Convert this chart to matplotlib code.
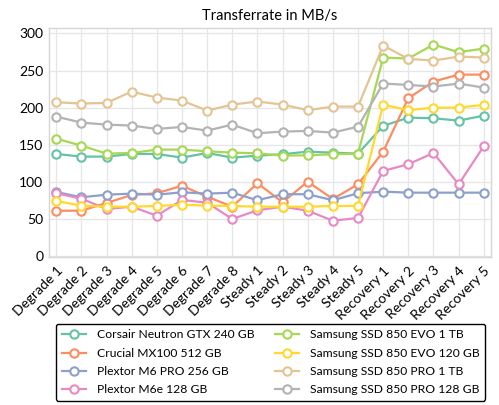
import matplotlib
matplotlib.use("Agg")
import matplotlib.pyplot as plt
from matplotlib.transforms import ScaledTranslation

plt.rcParams['font.family'] = ['Lato', 'DejaVu Sans']

categories = ["Degrade 1", "Degrade 2", "Degrade 3", "Degrade 4", "Degrade 5", "Degrade 6",
              "Degrade 7", "Degrade 8", "Steady 1", "Steady 2", "Steady 3", "Steady 4",
              "Steady 5", "Recovery 1", "Recovery 2", "Recovery 3", "Recovery 4", "Recovery 5"]

corsair_neutron_gtx_240 = [137.7, 134.1, 134.1, 137.7, 137.7, 132.7, 139.0, 132.7,
                           135.4, 137.3, 140.8, 139.4, 138.1,
                           175.5, 186.6, 185.8, 182.6, 189.3]
crucial_mx100_512 = [61.2, 61.2, 71.6, 82.4, 84.7, 94.9, 80.1, 66.6,
                     98.2, 72.6, 100.3, 77.0, 96.8,
                     140.8, 212.8, 235.2, 244.6, 244.6]
plextor_m6_pro_256 = [86.4, 79.3, 82.8, 84.2, 82.8, 86.0, 84.2, 85.5,
                      75.3, 83.4, 83.4, 75.3, 84.7,
                      86.9, 85.5, 85.5, 85.5, 85.5]
plextor_m6e_128 = [84.7, 77.4, 63.5, 66.6, 54.5, 75.7, 72.0, 50.0,
                   61.8, 66.6, 61.2, 47.7, 51.4,
                   114.8, 123.8, 139.0, 96.8, 148.1]
samsung_850_evo_1tb = [158.3, 148.9, 138.1, 139.0, 143.5, 143.5, 141.3, 139.4,
                       138.6, 135.4, 135.9, 137.3, 138.1,
                       267.6, 266.2, 285.1, 274.8, 279.7]
samsung_850_evo_120 = [74.3, 68.0, 66.6, 66.6, 67.6, 69.3, 68.0, 67.6,
                       66.6, 66.6, 66.6, 67.6, 67.6,
                       204.2, 196.6, 200.1, 200.1, 203.8]
samsung_850_pro_1tb = [207.4, 205.6, 206.5, 221.7, 213.6, 209.6, 196.1, 204.2,
                       208.3, 204.2, 196.6, 201.5, 201.5,
                       283.8, 265.8, 263.5, 268.9, 267.6]
samsung_850_pro_128 = [188.0, 179.9, 177.2, 175.9, 171.4, 174.1, 169.1, 177.2,
                       165.6, 167.8, 168.7, 166.4, 174.5,
                       232.5, 230.7, 228.5, 232.5, 227.1]

series_names = ["Corsair Neutron GTX 240 GB", "Crucial MX100 512 GB", "Plextor M6 PRO 256 GB",
                "Plextor M6e 128 GB", "Samsung SSD 850 EVO 1 TB", "Samsung SSD 850 EVO 120 GB",
                "Samsung SSD 850 PRO 1 TB", "Samsung SSD 850 PRO 128 GB"]
series_values = [corsair_neutron_gtx_240, crucial_mx100_512, plextor_m6_pro_256, plextor_m6e_128,
                 samsung_850_evo_1tb, samsung_850_evo_120, samsung_850_pro_1tb, samsung_850_pro_128]
colors = ["#66c2a5", "#fc8d62", "#8da0cb", "#e78ac3", "#a6d854", "#ffd92f", "#e5c494", "#b3b3b3"]
yticks = [0, 50, 100, 150, 200, 250, 300]

fig = plt.figure(figsize=(4.99, 4.05), dpi=100)
ax = fig.add_axes([48.7/499, 1-257.3/405, (491.3-48.7)/499, (257.3-28.3)/405])

x = list(range(len(categories)))
for name, vals, c in zip(series_names, series_values, colors):
    ax.plot(x, vals, color=c, lw=1.6, marker='o', markersize=6,
            markerfacecolor='white', markeredgecolor=c, markeredgewidth=1.5, label=name)

ax.set_xlim(-0.3, len(categories) - 1 + 0.3)
ax.set_ylim(-1.6, 307)
ax.set_xticks(x)
ax.set_xticklabels(categories, rotation=45, ha='right', rotation_mode='anchor', fontsize=10)
ax.set_yticks(yticks)
ax.set_yticklabels([str(v) for v in yticks], fontsize=10)
off = ScaledTranslation(0, 6/72, fig.dpi_scale_trans)
for lab in ax.get_yticklabels():
    lab.set_transform(lab.get_transform() + off)
ax.tick_params(length=0, pad=4)
ax.tick_params(axis='x', pad=5)
ax.grid(True, color='#e6e6e6', lw=0.9)
ax.set_axisbelow(True)
for s in ax.spines.values():
    s.set_color('#d6d6d6')
    s.set_linewidth(1.0)
ax.set_title("Transferrate in MB/s", fontsize=10.5, pad=6)

leg = ax.legend(loc='upper center', bbox_to_anchor=(270.5/499, 1-318/405),
                bbox_transform=fig.transFigure, ncol=2, fontsize=8.7,
                frameon=True, fancybox=True, edgecolor='black', framealpha=1,
                handlelength=2.0, handletextpad=0.9, columnspacing=1.7,
                labelspacing=0.6, borderpad=0.45)
leg.get_frame().set_linewidth(1.0)

fig.savefig("out.png", dpi=100)
